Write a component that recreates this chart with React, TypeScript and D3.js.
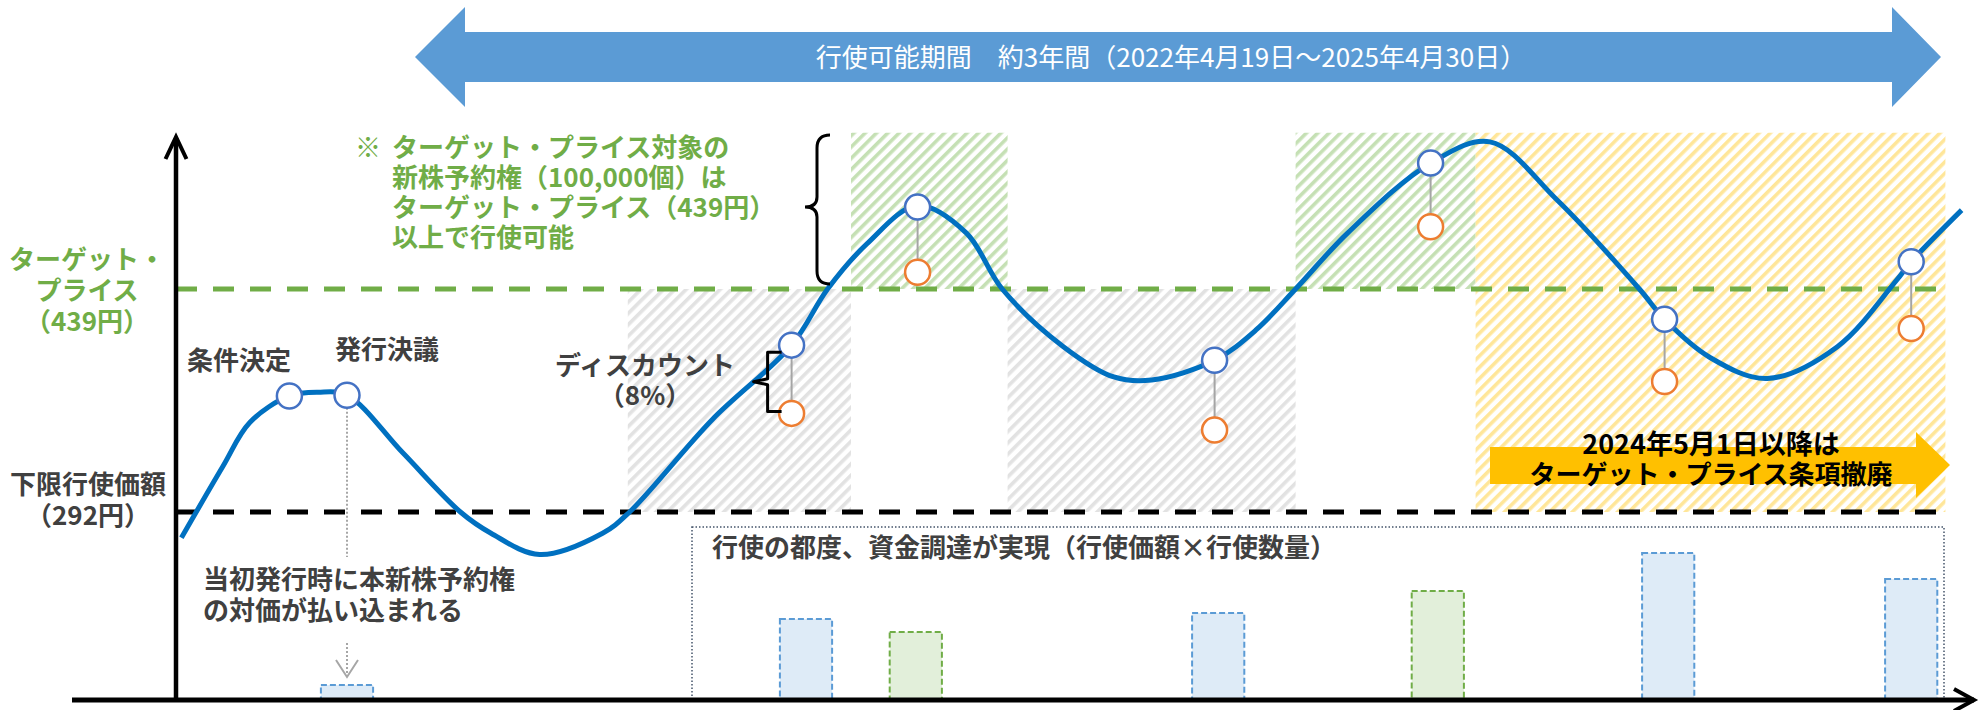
import * as d3 from "d3";

// time index 0..100 across the chart, price in yen
const curveT = [0.3, 2.6, 4.1, 6.3, 7.9, 9.5, 12.6, 15.8, 17.5, 20.2, 23.7, 25.2, 29.8, 34.2, 36.2, 38.4, 41.2, 43.9, 45.9, 49.3, 52.1, 54.2, 57.7, 60.0, 62.2, 65.1, 69.7, 73.0, 76.7, 81.3, 82.7, 85.2, 88.4, 92.3, 95.6, 96.4, 99.2];
const curvePrice = [275, 322, 351, 368.5, 371, 369, 331, 292, 278, 264, 278, 292, 353, 402, 439, 469, 494, 476, 439, 401, 381, 379, 392, 412, 439, 476, 522, 536, 498, 439, 419, 394, 380, 401, 445, 457, 491];

const targetPrice = 439;
const floorPrice = 292;

const eventLabels = ["条件決定", "発行決議"];
const eventT = [6.3, 9.5];
const eventPrice = [368.5, 369];

const exerciseT = [34.2, 41.2, 57.7, 69.7, 82.7, 96.4];
const exercisePrice = [402, 493, 392, 522, 419, 457];
const exerciseDiscounted = [357, 450, 346, 480, 378, 413];

const barT = [9.5, 35, 41.1, 57.9, 70.1, 82.9, 96.4];
const barAmount = [15, 81, 68, 87, 109, 147, 121];
const barKind = ["blue", "blue", "green", "blue", "green", "blue", "blue"];

const zoneStart = [25.1, 37.5, 46.2, 62.2, 72.2];
const zoneEnd = [37.5, 46.2, 62.2, 72.2, 98.3];
const zoneLow = [292, 439, 292, 439, 292];
const zoneHigh = [439, 542, 439, 542, 542];
const zoneKind = ["gray", "green", "gray", "green", "yellow"];

const periodLabel = "行使可能期間　約3年間（2022年4月19日～2025年4月30日）";
const noteLines = ["ターゲット・プライス対象の", "新株予約権（100,000個）は", "ターゲット・プライス（439円）", "以上で行使可能"];
const targetLabel = ["ターゲット・", "プライス", "（439円）"];
const floorLabel = ["下限行使価額", "（292円）"];
const payLabel = ["当初発行時に本新株予約権", "の対価が払い込まれる"];
const discountLabel = ["ディスカウント", "（8%）"];
const boxLabel = "行使の都度、資金調達が実現（行使価額×行使数量）";
const removalLabel = ["2024年5月1日以降は", "ターゲット・プライス条項撤廃"];

const W = 1983, H = 710;
const FONT = "'Noto Sans CJK JP', 'Noto Sans', sans-serif";
const GREEN = "#70AD47", GRAY_TXT = "#404040";
const R = 12.5;

export default function App() {
  const x = d3.scaleLinear().domain([0, 100]).range([176, 1976]);
  const y = d3.scaleLinear().domain([floorPrice, targetPrice]).range([512, 289]);
  const yb = d3.scaleLinear().domain([0, 150]).range([700, 550]);
  const barW = x(2.9) - x(0);

  const line = d3.line<number>().x((_, i) => x(curveT[i])).y((p) => y(p)).curve(d3.curveCatmullRom.alpha(0.5));

  const zoneFill: Record<string, string> = { gray: "url(#hGray)", green: "url(#hGreen)", yellow: "url(#hYellow)" };
  const lineEnd = x(98.3);

  const ex1x = x(exerciseT[0]);
  const bTop = y(exercisePrice[0]) + 7, bBot = y(exerciseDiscounted[0]) - 2;

  return (
    <>
      <style>{"body{margin:0;overflow:hidden}"}</style>
      <svg width={W} height={H} style={{ position: "absolute", left: 0, top: 0, background: "#fff" }} fontFamily={FONT}>
        <defs>
          <pattern id="hGray" patternUnits="userSpaceOnUse" width={8} height={8} patternTransform="rotate(45)">
            <rect width={3.6} height={8} fill="#E2E2E2" />
          </pattern>
          <pattern id="hGreen" patternUnits="userSpaceOnUse" width={8} height={8} patternTransform="rotate(45)">
            <rect width={3.6} height={8} fill="#C5E0B4" />
          </pattern>
          <pattern id="hYellow" patternUnits="userSpaceOnUse" width={8} height={8} patternTransform="rotate(45)">
            <rect width={3.6} height={8} fill="#FFE699" />
          </pattern>
        </defs>

        {/* hatched zones */}
        {zoneStart.map((s, i) => (
          <rect key={`z${i}`} x={x(s)} y={y(zoneHigh[i])} width={x(zoneEnd[i]) - x(s)} height={y(zoneLow[i]) - y(zoneHigh[i])} fill={zoneFill[zoneKind[i]]} />
        ))}

        {/* exercise period arrow */}
        <path d="M415,57 L465,7 L465,32 L1892,32 L1892,7 L1941,57 L1892,107 L1892,82 L465,82 L465,107 Z" fill="#5B9BD5" />
        <text x={1171} y={67} textAnchor="middle" fontSize={26} fill="#fff">{periodLabel}</text>

        {/* threshold lines */}
        <line x1={x(0)} x2={lineEnd} y1={y(targetPrice)} y2={y(targetPrice)} stroke={GREEN} strokeWidth={5} strokeDasharray="21 16" />
        <line x1={x(0)} x2={lineEnd} y1={y(floorPrice)} y2={y(floorPrice)} stroke="#000" strokeWidth={5} strokeDasharray="21 16" />

        {/* yellow removal arrow */}
        <path d="M1490,447 L1916,447 L1916,432 L1950,465 L1916,498 L1916,484 L1490,484 Z" fill="#FFC000" />
        <text x={1711} textAnchor="middle" fontSize={26} fontWeight={700} fill="#000">
          <tspan x={1711} y={454} fontSize={27}>{removalLabel[0]}</tspan>
          <tspan x={1711} y={484}>{removalLabel[1]}</tspan>
        </text>

        {/* funding box */}
        <rect x={692} y={527} width={1252} height={173} fill="none" stroke="#44546A" strokeWidth={1.5} strokeDasharray="1.5 2" />
        <text x={712} y={557} fontSize={26} fontWeight={700} fill={GRAY_TXT}>{boxLabel}</text>

        {/* bars */}
        {barT.map((t, i) => (
          <rect key={`b${i}`} x={x(t) - barW / 2} y={yb(barAmount[i])} width={barW} height={yb(0) - yb(barAmount[i])}
            fill={barKind[i] === "blue" ? "#DEEBF7" : "#E2EFDA"} stroke={barKind[i] === "blue" ? "#5B9BD5" : GREEN}
            strokeWidth={2} strokeDasharray="6 3" />
        ))}

        {/* issuance dotted pointer */}
        <line x1={x(eventT[1])} x2={x(eventT[1])} y1={y(eventPrice[1]) + R} y2={557} stroke="#A6A6A6" strokeWidth={2} strokeDasharray="2 2" />
        <line x1={x(eventT[1])} x2={x(eventT[1])} y1={643} y2={675} stroke="#A6A6A6" strokeWidth={2} strokeDasharray="2 2" />
        <path d={`M${x(eventT[1]) - 11},660 L${x(eventT[1])},677 L${x(eventT[1]) + 11},660`} fill="none" stroke="#A6A6A6" strokeWidth={2} />

        {/* axes */}
        <line x1={72} x2={1974} y1={700} y2={700} stroke="#000" strokeWidth={5} />
        <path d="M1954,689 L1974,700 L1954,711" fill="none" stroke="#000" strokeWidth={4} />
        <line x1={176} x2={176} y1={700} y2={139} stroke="#000" strokeWidth={4.5} />
        <path d="M165.5,159 L176,137 L186.5,159" fill="none" stroke="#000" strokeWidth={4} />

        {/* price curve */}
        <path d={line(curvePrice) ?? ""} fill="none" stroke="#0070C0" strokeWidth={5} />

        {/* exercise points */}
        {exerciseT.map((t, i) => (
          <g key={`e${i}`}>
            <line x1={x(t)} x2={x(t)} y1={y(exercisePrice[i])} y2={y(exerciseDiscounted[i])} stroke="#A5A5A5" strokeWidth={2} />
            <circle cx={x(t)} cy={y(exerciseDiscounted[i])} r={R} fill="#fff" stroke="#ED7D31" strokeWidth={2.5} />
            <circle cx={x(t)} cy={y(exercisePrice[i])} r={R} fill="#fff" stroke="#4472C4" strokeWidth={2.5} />
          </g>
        ))}
        {eventT.map((t, i) => (
          <circle key={`ev${i}`} cx={x(t)} cy={y(eventPrice[i])} r={R} fill="#fff" stroke="#4472C4" strokeWidth={2.5} />
        ))}

        {/* braces */}
        <path d="M830,135 Q817,135 817,148 L817,197 Q817,207 805,207 Q817,207 817,217 L817,271 Q817,284 830,284" fill="none" stroke="#000" strokeWidth={3} />
        <path d={`M${ex1x - 10},${bTop} L${ex1x - 24},${bTop} L${ex1x - 24},${(bTop + bBot) / 2 - 3} L${ex1x - 38},${(bTop + bBot) / 2} L${ex1x - 24},${(bTop + bBot) / 2 + 3} L${ex1x - 24},${bBot} L${ex1x - 10},${bBot}`} fill="none" stroke="#000" strokeWidth={3} strokeLinejoin="round" />

        {/* left labels */}
        <text textAnchor="middle" fontSize={26} fontWeight={700} fill={GREEN}>
          {targetLabel.map((s, i) => <tspan key={s} x={87} y={269 + i * 31}>{s}</tspan>)}
        </text>
        <text textAnchor="middle" fontSize={26} fontWeight={700} fill={GRAY_TXT}>
          {floorLabel.map((s, i) => <tspan key={s} x={88} y={494 + i * 31}>{s}</tspan>)}
        </text>

        {/* event labels */}
        <text x={239} y={370} textAnchor="middle" fontSize={26} fontWeight={700} fill={GRAY_TXT}>{eventLabels[0]}</text>
        <text x={387} y={359} textAnchor="middle" fontSize={26} fontWeight={700} fill={GRAY_TXT}>{eventLabels[1]}</text>

        {/* discount label */}
        <text textAnchor="middle" fontSize={26} fontWeight={700} fill={GRAY_TXT}>
          {discountLabel.map((s, i) => <tspan key={s} x={645} y={375 + i * 30}>{s}</tspan>)}
        </text>

        {/* target price note */}
        <text x={355} y={157} fontSize={26} fontWeight={700} fill={GREEN}>※</text>
        <text fontSize={26} fontWeight={700} fill={GREEN}>
          {noteLines.map((s, i) => <tspan key={s} x={392} y={157 + i * 30}>{s}</tspan>)}
        </text>

        {/* payment label */}
        <text fontSize={26} fontWeight={700} fill={GRAY_TXT}>
          {payLabel.map((s, i) => <tspan key={s} x={203} y={589 + i * 31}>{s}</tspan>)}
        </text>
      </svg>
    </>
  );
}
